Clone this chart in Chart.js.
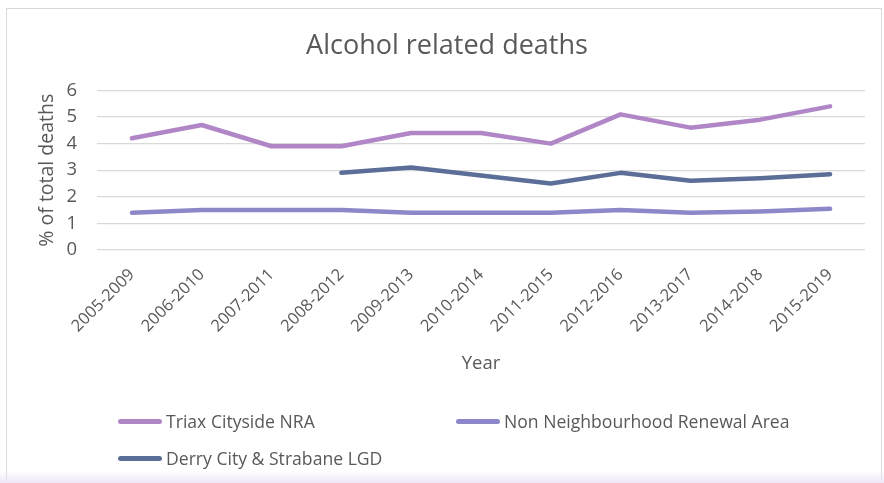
<!DOCTYPE html>
<html>
<head>
<meta charset="utf-8">
<script src="https://cdn.jsdelivr.net/npm/chart.js@4"></script>
<style>
  html, body { margin: 0; padding: 0; background: #fff; }
  #wrap { position: relative; width: 884px; height: 483px; overflow: hidden; }
  #frame { position: absolute; left: 6px; top: 8px; width: 876px; height: 480px; border: 1px solid #d9d9d9; box-sizing: border-box; }
  #tint { position: absolute; left: 0; bottom: 0; width: 884px; height: 12px;
          background: linear-gradient(#ffffff00, #efe6f5); }
  canvas { position: absolute; left: 0; top: 0; }
  #legend { position: absolute; left: 0; top: 0; width: 884px; font-family: "Open Sans", sans-serif;
            font-size: 17.6px; color: #595959; }
  .item { position: absolute; display: flex; align-items: center; white-space: nowrap; }
  .swatch { width: 44px; height: 5px; border-radius: 3px; margin-right: 4px; }
</style>
</head>
<body>
<div id="wrap">
  <div id="frame"></div>
  <div id="tint"></div>
  <canvas id="grafico" width="884" height="483"></canvas>
  <div id="legend"></div>
</div>
<script>
// Dados
const periodos = ["2005-2009", "2006-2010", "2007-2011", "2008-2012", "2009-2013", "2010-2014",
                  "2011-2015", "2012-2016", "2013-2017", "2014-2018", "2015-2019"];
const triax = [4.2, 4.7, 3.9, 3.9, 4.4, 4.4, 4.0, 5.1, 4.6, 4.9, 5.4];
const naoNRA = [1.4, 1.5, 1.5, 1.5, 1.4, 1.4, 1.4, 1.5, 1.4, 1.45, 1.55];
const derry = [null, null, null, 2.9, 3.1, 2.8, 2.5, 2.9, 2.6, 2.7, 2.85];
const ticksY = [0, 1, 2, 3, 4, 5, 6];

const corTexto = '#595959';
const fonte = '"Open Sans", sans-serif';

function serie(label, data, cor) {
    return {
        label: label,
        data: data,
        borderColor: cor,
        backgroundColor: cor,
        borderWidth: 4.5,
        borderCapStyle: 'round',
        borderJoinStyle: 'round',
        pointRadius: 0,
        tension: 0,
        spanGaps: false
    };
}

const datasets = [
    serie('Triax Cityside NRA', triax, '#b086c7'),
    serie('Non Neighbourhood Renewal Area', naoNRA, '#8c87c8'),
    serie('Derry City & Strabane LGD', derry, '#5b6e97')
];

const chart = new Chart(document.getElementById('grafico'), {
    type: 'line',
    data: { labels: periodos, datasets: datasets },
    options: {
        responsive: false,
        animation: false,
        // padding esquerdo maior para centrar o título como no original
        layout: { padding: { left: 29, right: 19, top: 8, bottom: 108 } },
        plugins: {
            legend: { display: false },
            tooltip: { enabled: false },
            title: {
                display: true,
                text: 'Alcohol related deaths',
                color: corTexto,
                font: { family: fonte, size: 27, weight: 'normal' },
                padding: { top: 22, bottom: 28 }
            }
        },
        scales: {
            x: {
                offset: true,
                grid: { display: false, drawTicks: false },
                border: { display: false },
                ticks: {
                    color: corTexto,
                    font: { family: fonte, size: 16.5 },
                    minRotation: 45,
                    maxRotation: 45,
                    autoSkip: false,
                    padding: 15
                },
                title: {
                    display: true,
                    text: 'Year',
                    color: corTexto,
                    font: { family: fonte, size: 18.5 },
                    padding: { top: 1, bottom: 0 }
                },
                afterFit: s => { s.height = 125; }
            },
            y: {
                min: 0,
                max: 6,
                grid: { color: '#d9d9d9', lineWidth: 1.3, drawTicks: false },
                border: { display: false },
                afterBuildTicks: s => { s.ticks = ticksY.map(v => ({ value: v })); },
                ticks: {
                    color: corTexto,
                    font: { family: fonte, size: 18.5 },
                    padding: 20
                },
                title: {
                    display: true,
                    text: '% of total deaths',
                    color: corTexto,
                    font: { family: fonte, size: 19.5 },
                    padding: { top: 7, bottom: 0 }
                },
                afterFit: s => { s.width = 68; }
            }
        }
    }
});

// Legenda em HTML (colunas fixas como no original)
const posLegenda = [
    { x: 118, y: 421 },
    { x: 456, y: 421 },
    { x: 118, y: 458 }
];
const legenda = document.getElementById('legend');
chart.data.datasets.forEach((ds, i) => {
    const item = document.createElement('div');
    item.className = 'item';
    item.style.left = posLegenda[i].x + 'px';
    item.style.top = (posLegenda[i].y - 12) + 'px';
    item.style.height = '24px';
    const sw = document.createElement('span');
    sw.className = 'swatch';
    sw.style.background = ds.borderColor;
    const txt = document.createElement('span');
    txt.textContent = ds.label;
    item.appendChild(sw);
    item.appendChild(txt);
    legenda.appendChild(item);
});
</script>
</body>
</html>
